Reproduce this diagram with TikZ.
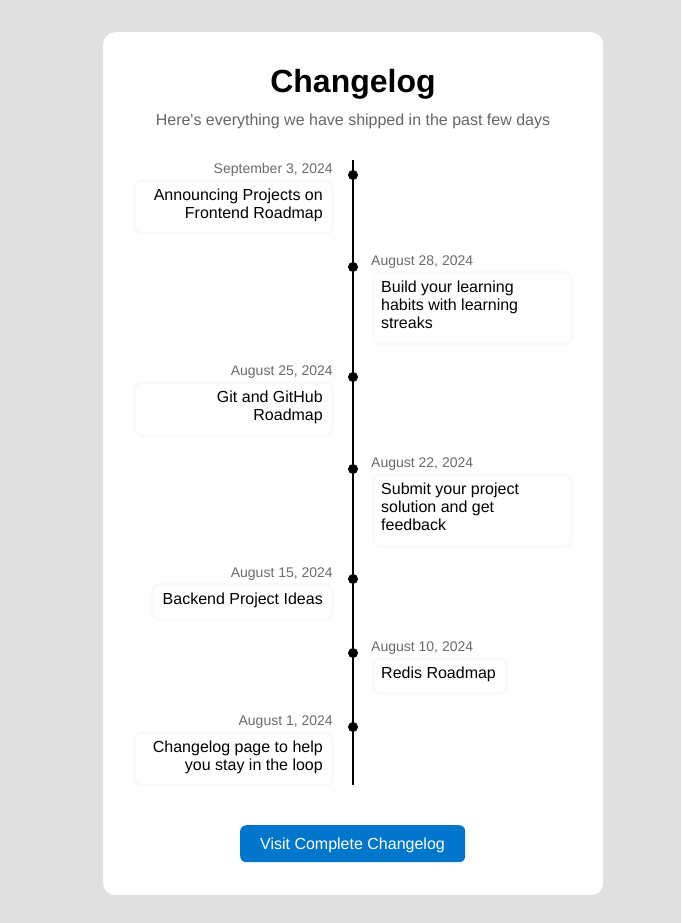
\documentclass[tikz,border=0pt]{standalone}
\usepackage{fontspec}
\setmainfont{Liberation Sans}[Ligatures=TeXOff]
\definecolor{bg}{HTML}{E0E0E0}
\definecolor{dategray}{HTML}{6B6B6B}
\definecolor{subgray}{HTML}{666666}
\definecolor{cardline}{HTML}{FAFAFA}
\definecolor{btnblue}{HTML}{0077CC}
\begin{document}
\begin{tikzpicture}[x=1pt,y=-1pt,
  datel/.style={font=\fontsize{14}{16}\selectfont, text=dategray, inner sep=0pt, anchor=base east},
  dater/.style={font=\fontsize{14}{16}\selectfont, text=dategray, inner sep=0pt, anchor=base west},
  bodyl/.style={font=\fontsize{16}{18}\selectfont, inner sep=0pt, align=right, anchor=north east},
  bodyr/.style={font=\fontsize{16}{18}\selectfont, inner sep=0pt, align=left, anchor=north west},
  cardbox/.style={fill=white, draw=cardline, rounded corners=7pt, line width=3pt, inner sep=0pt},
  dotnode/.style={circle, fill=black, inner sep=0pt, minimum size=10pt}]
\useasboundingbox (0,0) rectangle (681,923);
\fill[bg] (0,0) rectangle (681,923);
\node[fill=white, rounded corners=12pt, minimum width=500pt, minimum height=863pt, inner sep=0pt, anchor=north west] (panel) at (103,32) {};
\node[font=\fontsize{32}{38}\selectfont\bfseries, inner sep=0pt, anchor=base] (title) at (353,93) {Changelog};
\node[font=\fontsize{16}{18}\selectfont, text=subgray, inner sep=0pt, anchor=base] (sub) at (353,125) {Here's everything we have shipped in the past few days};
\coordinate (ltop) at (353,160);
\coordinate (lbot) at (353,785);
\draw[line width=2pt] (ltop) -- (lbot);
% item 1
\node[dotnode] (d1) at (353,175) {};
\node[datel] (t1) at (333,173.5) {September 3, 2024};
\node[cardbox, minimum width=198pt, minimum height=53pt, anchor=north east] (c1) at (334,179) {};
\node[bodyl] (b1) at (323,187.9) {\strut Announcing Projects on\\Frontend Roadmap};
% item 2
\node[dotnode] (d2) at (353,267) {};
\node[dater] (t2) at (371,265.5) {August 28, 2024};
\node[cardbox, minimum width=198pt, minimum height=72pt, anchor=north west] (c2) at (372,271) {};
\node[bodyr] (b2) at (381,279.9) {\strut Build your learning\\habits with learning\\streaks};
% item 3
\node[dotnode] (d3) at (353,377) {};
\node[datel] (t3) at (333,375.5) {August 25, 2024};
\node[cardbox, minimum width=198pt, minimum height=53pt, anchor=north east] (c3) at (334,381) {};
\node[bodyl] (b3) at (323,389.9) {\strut Git and GitHub\\Roadmap};
% item 4
\node[dotnode] (d4) at (353,469) {};
\node[dater] (t4) at (371,467.5) {August 22, 2024};
\node[cardbox, minimum width=198pt, minimum height=72pt, anchor=north west] (c4) at (372,473) {};
\node[bodyr] (b4) at (381,481.9) {\strut Submit your project\\solution and get\\feedback};
% item 5
\node[dotnode] (d5) at (353,579) {};
\node[datel] (t5) at (333,577.5) {August 15, 2024};
\node[cardbox, minimum width=180pt, minimum height=35pt, anchor=north east] (c5) at (334,583) {};
\node[bodyl] (b5) at (323,591.9) {\strut Backend Project Ideas};
% item 6
\node[dotnode] (d6) at (353,653) {};
\node[dater] (t6) at (371,651.5) {August 10, 2024};
\node[cardbox, minimum width=133pt, minimum height=35pt, anchor=north west] (c6) at (372,657) {};
\node[bodyr] (b6) at (381,665.9) {\strut Redis Roadmap};
% item 7
\node[dotnode] (d7) at (353,727) {};
\node[datel] (t7) at (333,725.5) {August 1, 2024};
\node[cardbox, minimum width=198pt, minimum height=53pt, anchor=north east] (c7) at (334,731) {};
\node[bodyl] (b7) at (323,739.9) {\strut Changelog page to help\\you stay in the loop};
% button
\node[fill=btnblue, rounded corners=6pt, minimum width=225pt, minimum height=37pt, inner sep=0pt, anchor=north west] (btn) at (240,825) {};
\node[font=\fontsize{16}{18}\selectfont, text=white, inner sep=0pt, anchor=base] (btntext) at (352.5,849) {Visit Complete Changelog};
\end{tikzpicture}
\end{document}
